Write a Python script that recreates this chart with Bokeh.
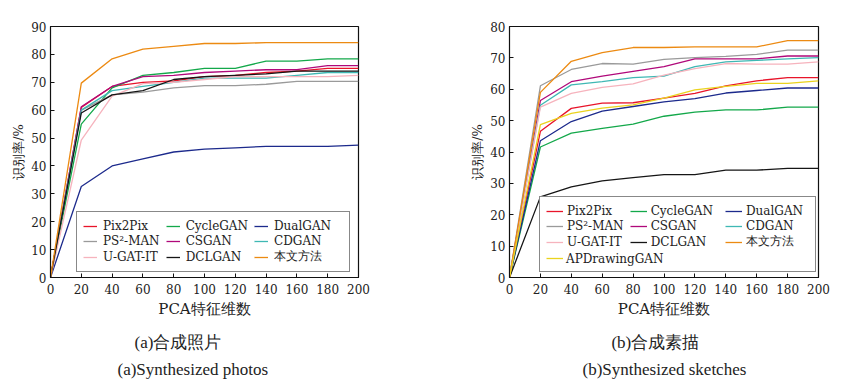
from bokeh.plotting import figure
from bokeh.models import Legend, LegendItem, Title, FixedTicker, Range1d
from bokeh.layouts import row
from bokeh.embed import file_html
from bokeh.resources import INLINE

# ---------------- data ----------------
pca_dims = [0, 20, 40, 60, 80, 100, 120, 140, 160, 180, 200]

names_a = ["Pix2Pix", "CycleGAN", "DualGAN", "PS²-MAN", "CSGAN", "CDGAN",
           "U-GAT-IT", "DCLGAN", "本文方法"]
pix2pix_a = [0, 61.0, 68.5, 70.0, 70.5, 72.0, 72.5, 73.5, 74.0, 75.0, 75.0]
cyclegan_a = [0, 55.0, 68.0, 72.5, 73.5, 75.0, 75.0, 77.6, 77.6, 78.4, 78.4]
dualgan_a = [0, 32.6, 40.0, 42.5, 45.0, 46.0, 46.5, 47.0, 47.0, 47.0, 47.5]
ps2man_a = [0, 60.0, 65.5, 66.5, 68.0, 68.8, 68.8, 69.3, 70.3, 70.3, 70.3]
csgan_a = [0, 61.2, 68.5, 72.0, 72.5, 73.5, 74.0, 74.5, 74.5, 76.0, 76.0]
cdgan_a = [0, 60.0, 67.0, 68.5, 70.0, 71.5, 71.5, 71.5, 72.5, 73.5, 73.5]
ugatit_a = [0, 49.3, 65.0, 69.5, 70.0, 71.0, 72.0, 72.0, 72.0, 72.0, 72.5]
dclgan_a = [0, 59.0, 65.5, 67.0, 71.0, 72.0, 72.5, 73.0, 74.0, 74.0, 74.0]
ours_a = [0, 69.7, 78.4, 81.9, 82.9, 83.9, 83.9, 84.2, 84.2, 84.2, 84.2]

names_b = ["Pix2Pix", "CycleGAN", "DualGAN", "PS²-MAN", "CSGAN", "CDGAN",
           "U-GAT-IT", "DCLGAN", "本文方法", "APDrawingGAN"]
pix2pix_b = [0, 46.6, 53.9, 55.6, 55.7, 57.2, 58.7, 61.1, 62.7, 63.7, 63.7]
cyclegan_b = [0, 41.6, 46.0, 47.5, 48.9, 51.4, 52.7, 53.4, 53.4, 54.3, 54.3]
dualgan_b = [0, 43.6, 49.7, 53.0, 54.5, 56.0, 57.0, 58.8, 59.6, 60.4, 60.4]
ps2man_b = [0, 61.1, 66.3, 68.2, 68.0, 69.5, 70.1, 70.5, 71.1, 72.5, 72.5]
csgan_b = [0, 56.4, 62.4, 64.2, 65.7, 67.2, 69.7, 69.7, 69.7, 70.6, 70.6]
cdgan_b = [0, 54.9, 61.4, 62.4, 63.7, 64.2, 67.2, 68.7, 69.2, 69.7, 70.1]
ugatit_b = [0, 54.3, 58.7, 60.6, 61.7, 64.5, 66.6, 68.2, 68.0, 68.0, 68.7]
dclgan_b = [0, 25.7, 28.9, 30.8, 31.8, 32.8, 32.8, 34.2, 34.2, 34.8, 34.8]
ours_b = [0, 59.0, 68.9, 71.7, 73.3, 73.3, 73.5, 73.5, 73.5, 75.5, 75.5]
apdrawing_b = [0, 48.7, 52.3, 54.0, 55.0, 57.2, 59.8, 60.9, 61.9, 61.9, 62.7]

x_ticks = [0, 20, 40, 60, 80, 100, 120, 140, 160, 180, 200]
y_ticks_a = [0, 10, 20, 30, 40, 50, 60, 70, 80, 90]
y_ticks_b = [0, 10, 20, 30, 40, 50, 60, 70, 80]

caption_a = ["(a)合成照片", "(a)Synthesized photos"]
caption_b = ["(b)合成素描", "(b)Synthesized sketches"]

colors = {
    "Pix2Pix": "#e8142a",
    "CycleGAN": "#13a84a",
    "DualGAN": "#1c2a8c",
    "PS²-MAN": "#9a9a9a",
    "CSGAN": "#b0087a",
    "CDGAN": "#3fb8b4",
    "U-GAT-IT": "#f6b3bd",
    "DCLGAN": "#151515",
    "本文方法": "#ec8a12",
    "APDrawingGAN": "#ead31e",
}

FONT = "DejaVu Serif"
CAP_FONT = "Liberation Serif"
TXT = "#222222"
SP = "\u2002"


def leg_kwargs(**kw):
    base = dict(label_text_font=FONT, label_text_font_size="12px",
                label_text_color=TXT, glyph_height=12, label_height=15,
                spacing=0, margin=0)
    base.update(kw)
    return base


def make_panel(series, names, yticks, ymax, width, height, bl, bt, br, bb,
               caption, cn_indent, cap_offset):
    p = figure(width=width, height=height, output_backend="svg",
               toolbar_location=None, x_range=Range1d(0, 200),
               y_range=Range1d(0, ymax), min_border_left=bl, min_border_top=bt,
               min_border_right=br, min_border_bottom=bb)
    p.grid.visible = False
    p.outline_line_color = "#111111"
    p.outline_line_width = 1.2
    for ax in (p.xaxis[0], p.yaxis[0]):
        ax.major_tick_in = 4
        ax.major_tick_out = 0
        ax.minor_tick_line_color = None
        ax.axis_line_color = "#111111"
        ax.major_tick_line_color = "#111111"
        ax.major_label_text_font = FONT
        ax.major_label_text_font_size = "12px"
        ax.major_label_text_color = TXT
        ax.axis_label_text_font = FONT
        ax.axis_label_text_font_style = "normal"
        ax.axis_label_text_color = TXT
    p.xaxis.axis_label_text_font_size = "15px"
    p.yaxis.axis_label_text_font_size = "13px"
    p.xaxis.ticker = FixedTicker(ticks=x_ticks)
    p.yaxis.ticker = FixedTicker(ticks=yticks)
    p.xaxis.major_label_standoff = 6
    p.yaxis.major_label_standoff = 4
    p.xaxis.axis_label = "PCA特征维数"
    p.xaxis.axis_label_standoff = 3
    p.yaxis.axis_label = "识别率/%"
    p.yaxis.axis_label_standoff = 2

    renderers = {}
    for name, ys in zip(names, series):
        renderers[name] = p.line(pca_dims, ys, line_color=colors[name],
                                 line_width=1.3)

    text = cn_indent + caption[0] + "\n" + caption[1]
    cap = Title(text=text, align="left", text_font=CAP_FONT,
                text_font_size="17px", text_font_style="normal",
                text_color=TXT, standoff=20, offset=cap_offset,
                text_line_height=1.45)
    p.add_layout(cap, "below")
    return p, renderers


series_a = [pix2pix_a, cyclegan_a, dualgan_a, ps2man_a, csgan_a, cdgan_a,
            ugatit_a, dclgan_a, ours_a]
series_b = [pix2pix_b, cyclegan_b, dualgan_b, ps2man_b, csgan_b, cdgan_b,
            ugatit_b, dclgan_b, ours_b, apdrawing_b]

pa, ra = make_panel(series_a, names_a, y_ticks_a, 90, 467, 390, 50, 26, 109,
                    113, caption_a, SP + SP, 67)
pb, rb = make_panel(series_b, names_b, y_ticks_b, 80, 371, 390, 42, 14, 20,
                    112, caption_b, SP + SP + SP + "\u2009", 73)

# ---- legend (a): 3 x 3 ----
items_a = []
for i, name in enumerate(names_a):
    lab = name + SP + SP if i % 3 == 2 else name + SP
    items_a.append(LegendItem(label=lab, renderers=[ra[name]]))
leg_a = Legend(items=items_a, location=(26, 5), orientation="horizontal",
               ncols=3, **leg_kwargs(glyph_width=14, label_standoff=6,
                                     label_width=61, padding=6,
                                     border_line_color="#111111",
                                     border_line_width=1,
                                     background_fill_alpha=1.0))
pa.add_layout(leg_a, "center")

# ---- legend (b): 3 x 3 plus APDrawingGAN spanning the 4th row ----
items_b = []
for i, name in enumerate(names_b):
    if name == "APDrawingGAN":
        lab = SP
    elif i % 3 == 1:
        lab = name + SP + SP
    else:
        lab = name + SP
    items_b.append(LegendItem(label=lab, renderers=[rb[name]]))
leg_b = Legend(items=items_b, location=(30, 5), orientation="horizontal",
               ncols=3, **leg_kwargs(glyph_width=17, label_standoff=4,
                                     label_width=55, padding=6,
                                     border_line_color="#111111",
                                     border_line_width=1,
                                     background_fill_alpha=1.0))
pb.add_layout(leg_b, "center")
leg_b_ap = Legend(items=[LegendItem(label="APDrawingGAN",
                                    renderers=[rb["APDrawingGAN"]])],
                  location=(57, 11),
                  **leg_kwargs(glyph_width=0, label_standoff=0,
                               label_width=0, padding=0,
                               border_line_color=None,
                               background_fill_alpha=0.0))
pb.add_layout(leg_b_ap, "center")

layout = row(pa, pb)
open("out.html", "w").write(file_html(layout, INLINE))
